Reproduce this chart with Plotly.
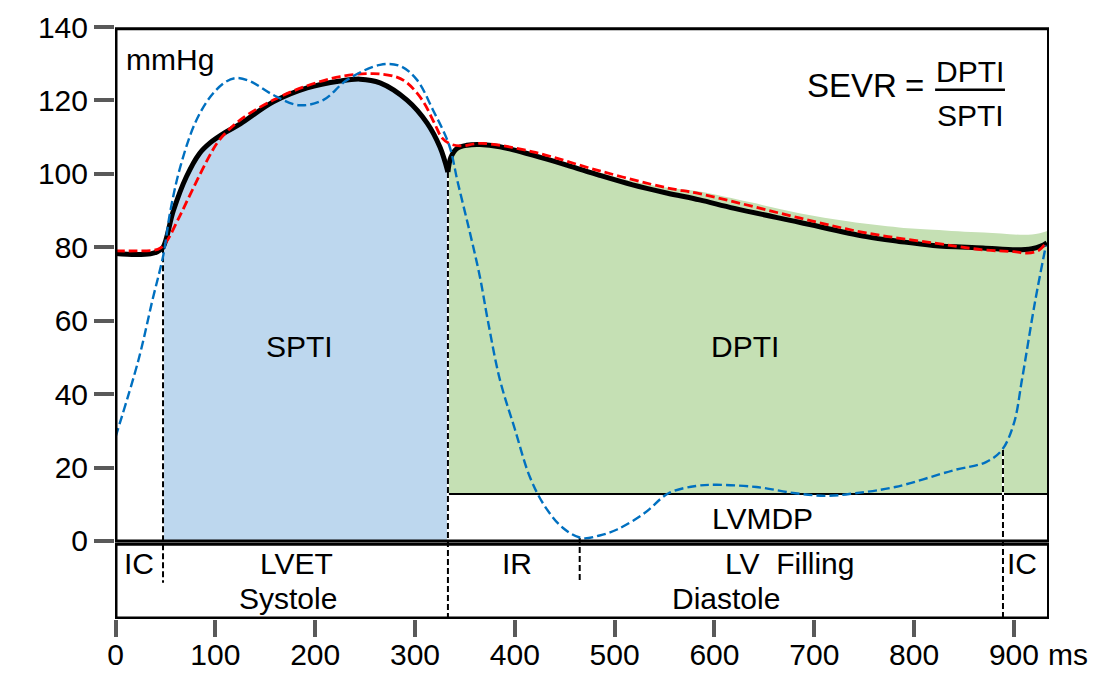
import plotly.graph_objects as go

# ---------------- data (ms, mmHg) ----------------
# Aortic pressure (black solid), split at the dicrotic notch
ao_sys_t = [0, 20, 35, 42, 47.6, 58, 71, 84, 95, 110, 125, 158, 192, 225, 245, 265, 292, 312, 325, 333]
ao_sys_p = [78.3, 78.0, 78.2, 78.8, 80.0, 90.0, 99.2, 105.5, 108.5, 111.3, 113.6, 119.6, 123.4, 125.3,
            125.8, 124.8, 120.1, 113.9, 107.3, 100.5]
ao_dia_t = [333, 336, 342, 352, 365, 385, 418, 452, 485, 518, 552, 585, 620, 685, 752, 785, 819, 869,
            903, 918, 927, 933]
ao_dia_p = [100.5, 104.5, 106.9, 107.8, 108.0, 107.4, 105.1, 102.4, 99.6, 97.0, 94.8, 92.9, 90.6, 86.8,
            82.9, 81.6, 80.5, 79.8, 79.3, 79.6, 80.3, 81.2]

# Red dashed pressure curve
red_t = [0, 20, 39, 45, 51, 64, 77, 92, 104, 125, 158, 192, 225, 258, 280, 292, 308, 320, 327, 335, 345,
         367, 418, 485, 552, 585, 685, 752, 819, 869, 900, 913, 925, 932]
red_p = [79, 79, 79.2, 79.8, 81.5, 88.3, 95.6, 103.8, 109.2, 114.7, 120.1, 124.0, 126.5, 127.3, 126.5,
         124.8, 119.8, 113.5, 109.8, 108.2, 107.6, 108.3, 106.0, 100.8, 96.2, 94.6, 88.0, 83.9, 81.2,
         79.3, 78.8, 78.4, 79.2, 81.2]

# LV pressure (blue dashed)
lv_t = [0, 23, 37, 48, 55, 65, 80, 95, 110, 121, 135, 158, 184, 208, 232, 265, 285, 302, 318, 334, 343,
        355, 365, 373, 385, 400, 415, 430, 448, 467, 485, 503, 530, 554, 582, 602, 642, 681, 713, 741,
        781, 840, 872, 888, 900, 908, 921, 932]
lv_p = [28.3, 49.3, 65.6, 78, 90, 102, 114, 121, 125, 126.1, 125.2, 121.5, 118.7, 120.1, 125.6, 129.7,
        129.4, 125.6, 117.4, 108, 97.5, 84, 72, 60, 44, 30.5, 17.5, 9.5, 3.6, 0.8, 1.5, 3.2, 7.6, 13, 15,
        15.3, 14.7, 13, 12.3, 13, 14.7, 19.3, 21.5, 24.8, 32.1, 43.9, 65, 80.5]

# Upper edge of the DPTI (green) area
dpti_t = [333, 336, 342, 352, 365, 385, 418, 452, 485, 518, 552, 585, 635, 685, 735, 785, 819, 870, 918, 935]
dpti_p = [100.5, 104.5, 106.9, 107.8, 108.0, 107.5, 105.3, 102.8, 100.4, 98.0, 96.3, 95.2, 92.3, 89.3,
          87.0, 85.4, 84.8, 84.0, 83.5, 84.6]

lvmdp = 12.8            # LV mean diastolic pressure level
sys_start = 47.6        # start of ejection
notch_t = 333           # dicrotic notch / end of ejection
cycle_end = 935

# phase dividers: time, top, bottom (mmHg)
div_t = [47.6, 333, 465, 889]
div_top = [80.0, 100.5, 0.8, 24.8]
div_bot = [-11.4, -21.0, -10.6, -21.0]

x_ticks = [0, 100, 200, 300, 400, 500, 600, 700, 800, 900]
y_ticks = [0, 20, 40, 60, 80, 100, 120, 140]

# ---------------- figure ----------------
FONT = "Liberation Sans, Arial, sans-serif"
X_RANGE = [-0.5, 935.1]
Y_RANGE = [-21.25, 140]
fig = go.Figure()

# SPTI fill (under systolic aortic pressure, during ejection)
spti_t = [t for t in ao_sys_t if t >= sys_start]
spti_p = [p for t, p in zip(ao_sys_t, ao_sys_p) if t >= sys_start]
fig.add_trace(go.Scatter(x=spti_t, y=spti_p, mode="lines", line=dict(width=0, shape="spline"),
                         fill="tozeroy", fillcolor="#BDD7EE", hoverinfo="skip", showlegend=False))

# DPTI fill (between LVMDP and diastolic pressure)
fig.add_trace(go.Scatter(x=[notch_t, cycle_end], y=[lvmdp, lvmdp], mode="lines",
                         line=dict(width=0), hoverinfo="skip", showlegend=False))
fig.add_trace(go.Scatter(x=dpti_t, y=dpti_p, mode="lines", line=dict(width=0, shape="spline"),
                         fill="tonexty", fillcolor="#C5E0B4", hoverinfo="skip", showlegend=False))

# LVMDP line
fig.add_trace(go.Scatter(x=[notch_t, cycle_end], y=[lvmdp, lvmdp], mode="lines",
                         line=dict(color="black", width=2), hoverinfo="skip", showlegend=False))

# phase dividers
for t, a, b in zip(div_t, div_top, div_bot):
    fig.add_trace(go.Scatter(x=[t, t], y=[a, b], mode="lines", line=dict(color="white", width=2),
                             hoverinfo="skip", showlegend=False))
    fig.add_trace(go.Scatter(x=[t, t], y=[a, b], mode="lines",
                             line=dict(color="black", width=2, dash="6px,3px"),
                             hoverinfo="skip", showlegend=False))

# aortic pressure
fig.add_trace(go.Scatter(x=ao_sys_t, y=ao_sys_p, mode="lines",
                         line=dict(color="black", width=5, shape="spline"), showlegend=False))
fig.add_trace(go.Scatter(x=ao_dia_t, y=ao_dia_p, mode="lines",
                         line=dict(color="black", width=5, shape="spline"), showlegend=False))
# red dashed
fig.add_trace(go.Scatter(x=red_t, y=red_p, mode="lines",
                         line=dict(color="#FF0000", width=2.8, dash="9px,4px", shape="spline"),
                         showlegend=False))
# LV pressure
fig.add_trace(go.Scatter(x=lv_t, y=lv_p, mode="lines",
                         line=dict(color="#0070C0", width=2.4, dash="9px,4px", shape="spline"),
                         showlegend=False))

# frames
fig.add_shape(type="rect", xref="x", yref="y", x0=0.5, x1=934.6, y0=0, y1=139.5,
              line=dict(color="black", width=3), layer="above")
fig.add_shape(type="rect", xref="x", yref="y", x0=0.5, x1=934.6, y0=-0.9, y1=-21.0,
              line=dict(color="black", width=3), layer="above")
# fraction bar
fig.add_shape(type="line", xref="x", yref="y", x0=821, x1=891, y0=122.9, y1=122.9,
              line=dict(color="black", width=2.5))

def label(text, x, y, size=30, xanchor="center"):
    fig.add_annotation(x=x, y=y, xref="x", yref="y", text=text, showarrow=False,
                       xanchor=xanchor, yanchor="middle",
                       font=dict(family=FONT, size=size, color="black"))

label("mmHg", 8.5, 131.2, xanchor="left")
label("SEVR", 690.5, 124.1, size=33, xanchor="left")
label("=", 800, 124.1, size=33)
label("DPTI", 856, 128.0)
label("SPTI", 856, 116.0)
label("SPTI", 184, 53.1)
label("DPTI", 631, 53.1)
label("LVMDP", 648, 6.0)
label("IC", 24, -6.0)
label("LVET", 181, -6.0)
label("IR", 402, -6.0)
label("LV\u00a0\u00a0Filling", 676, -6.0)
label("IC", 908, -6.0)
label("Systole", 173, -15.6)
label("Diastole", 612, -15.6)

# unit label beyond the right end of the time axis (paper coordinates)
ms_x, ms_y = 954.6, -30.8
fig.add_annotation(x=(ms_x - X_RANGE[0]) / (X_RANGE[1] - X_RANGE[0]),
                   y=(ms_y - Y_RANGE[0]) / (Y_RANGE[1] - Y_RANGE[0]),
                   xref="paper", yref="paper", text="ms", showarrow=False,
                   xanchor="center", yanchor="middle",
                   font=dict(family=FONT, size=30, color="black"))

fig.update_layout(
    width=1101, height=677, autosize=False,
    margin=dict(l=115, r=52, t=27, b=58),
    paper_bgcolor="white", plot_bgcolor="white",
    showlegend=False,
    xaxis=dict(range=X_RANGE, tickvals=x_ticks, ticktext=[str(v) for v in x_ticks],
               ticks="outside", ticklen=17, tickwidth=4, tickcolor="#595959",
               ticklabelstandoff=-8,
               showgrid=False, zeroline=False, showline=False, automargin=False,
               tickfont=dict(family=FONT, size=30, color="black")),
    yaxis=dict(range=Y_RANGE, tickvals=y_ticks, ticktext=[str(v) for v in y_ticks],
               ticks="outside", ticklen=20, tickwidth=4, tickcolor="#595959",
               showgrid=False, zeroline=False, showline=False, automargin=False,
               tickfont=dict(family=FONT, size=30, color="black")),
)

fig.write_html("out.html")
